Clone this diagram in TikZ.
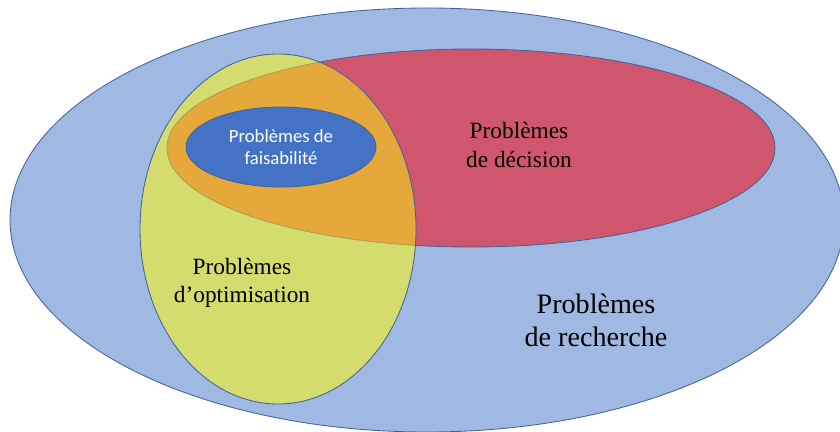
\documentclass[tikz,border=0pt]{standalone}
\usepackage{fontspec}
\setmainfont{Liberation Serif}
\newfontfamily\calibri{Carlito}
\definecolor{searchblue}{HTML}{A0B9E2}
\definecolor{decisionred}{HTML}{D0566E}
\definecolor{optimyellow}{HTML}{D4DC6E}
\definecolor{bothorange}{HTML}{E6A83A}
\definecolor{feasblue}{HTML}{4472C4}
\definecolor{edgeblue}{HTML}{41629A}
\definecolor{faintedge}{HTML}{A8A050}
\tikzset{
  setline/.style={draw=edgeblue, line width=0.6pt},
  biglabel/.style={align=center, text=black, font=\fontsize{20}{23.5}\selectfont},
  midlabel/.style={align=center, text=black, font=\fontsize{16.6}{20}\selectfont},
  smalllabel/.style={align=center, text=white, font=\calibri\fontsize{13.3}{16}\selectfont}
}
\begin{document}
\begin{tikzpicture}[x=0.025cm, y=-0.025cm]
  \useasboundingbox (0,0) rectangle (840,432);
  % Sets
  \path[setline, fill=searchblue] (427,220) ellipse [x radius=417, y radius=212];
  \path[setline, fill=decisionred] (471,148) ellipse [x radius=304, y radius=99];
  \path[fill=optimyellow] (278,229) ellipse [x radius=138, y radius=175];
  \begin{scope}
    \clip (278,229) ellipse [x radius=138, y radius=175];
    \fill[bothorange] (471,148) ellipse [x radius=304, y radius=99];
    \draw[faintedge, line width=0.6pt] (471,148) ellipse [x radius=304, y radius=99];
  \end{scope}
  \path[setline] (278,229) ellipse [x radius=138, y radius=175];
  \path[setline, fill=feasblue] (281,147) ellipse [x radius=95, y radius=40];

  % Labels
  \node[smalllabel] (feas) at (281,147) {Problèmes de\\faisabilité};
  \node[midlabel] (decision) at (519,145) {Problèmes\\de décision};
  \node[midlabel] (optim) at (242,283) {Problèmes\\d’optimisation};
  \node[biglabel] (search) at (596,320) {Problèmes\\de recherche};
\end{tikzpicture}
\end{document}
